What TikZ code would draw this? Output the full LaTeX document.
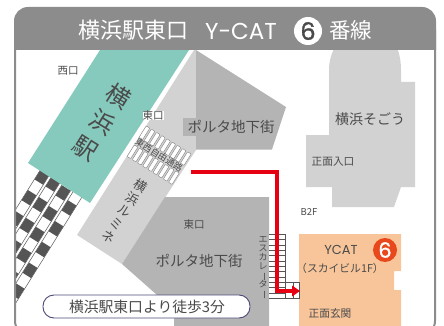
\documentclass[tikz,border=0pt]{standalone}
\usepackage{fontspec}
\setmainfont{Noto Sans CJK JP}
\newfontfamily\digitfont[FakeBold=1.2]{Poppins}
\newfontfamily\latinfont{Poppins}
\definecolor{hdr}{HTML}{8C8C8C}
\definecolor{lgray}{HTML}{D2D2D2}
\definecolor{dgray}{HTML}{B4B4B4}
\definecolor{teal1}{HTML}{85CABD}
\definecolor{orange1}{HTML}{F8C59A}
\definecolor{txt}{HTML}{4A4A4A}
\definecolor{red1}{HTML}{E60012}
\definecolor{track}{HTML}{555555}
\definecolor{navy}{HTML}{4A4A78}
\definecolor{ora}{HTML}{E8481C}
\newcommand{\fsz}[1]{\fontsize{#1}{#1}\selectfont}
\newcommand{\vbar}{\raisebox{0pt}[7pt][0pt]{\makebox[9pt]{\rotatebox[origin=c]{-90}{ー}}}}
\tikzset{
 lbl/.style={text=txt,inner sep=0pt,font=\fsz{#1}},
 lbl/.default=10.5,
 slot/.style={fill=white,draw=black!50,line width=0.4pt,rounded corners=0.6pt},
}
\begin{document}
\begin{tikzpicture}[x=1pt,y=-1pt]
\useasboundingbox (0,0) rectangle (444,326);
\begin{scope}
\clip (0,0) rectangle (444,326);
% tracks
\begin{scope}
\clip (16,50) rectangle (120,326);
\foreach \sx/\sy in {42/177,53/184,63/193,69/208}{
 \begin{scope}[shift={(\sx,\sy)},rotate=238,y=1pt]
  \fill[white] (-40,-5) rectangle (150,5);
  \draw[track,line width=0.5pt] (-40,-5.2) -- (150,-5.2) (-40,5.2) -- (150,5.2);
  \foreach \k in {-1,...,5}{
   \fill[track] ({\k*24.5-6},-5) rectangle ({\k*24.5+6},5);
  }
 \end{scope}
}
\end{scope}
% teal station
\fill[teal1] (100,50) -- (189,50) -- (90,203) -- (28,163) -- cycle;
% lumine and upper porta
\fill[lgray] (194,50) -- (196,50) -- (196,150) -- (122,264) -- (77,235) -- cycle;
\fill[dgray] (196,50) -- (286,107) -- (272,149.5) -- (196,149.5) -- cycle;
\fill[dgray] (183,118) rectangle (197,136);
% lower porta
\fill[dgray] (165,197) -- (269,197) -- (269,326) -- (174,326) -- (174,318) -- (157,295) -- (122,264) -- cycle;
% sogo
\fill[lgray] (329,135) -- (329,70) .. controls (329,60) and (332,52) .. (336,45) -- (396,45) .. controls (399,52) and (401,60) .. (401,70) -- (401,82) -- (415,82) -- (415,187) -- (401,187) -- (394,207) -- (332,207) -- (332,187) -- (306,187) -- (306,135) -- cycle;
% ycat
\fill[orange1] (299,234) -- (401,234) -- (401,271) -- (394,271) -- (394,290) -- (401,290) -- (401,326) -- (299,326) -- cycle;
% free passage slots
\begin{scope}[shift={(148,127)},rotate=238,y=1pt]
 \foreach \i in {0,...,8}{
  \draw[slot] (0,{\i*6.1-2.1}) rectangle (13.5,{\i*6.1+2.1});
  \draw[slot] (22.5,{\i*6.1-2.1}) rectangle (36,{\i*6.1+2.1});
 }
\end{scope}
% escalator
\fill[white] (269,234) rectangle (285,298);
\foreach \i in {0,...,12}{
 \draw[track,line width=0.5pt] (269,{234.3+\i*5.33}) -- (285,{234.3+\i*5.33});
}
\draw[track,line width=0.5pt] (285,234) -- (285,298);
\draw[track,fill=white,line width=0.5pt] (285,282) rectangle (299,298);
\draw[track,line width=0.5pt] (293,282) -- (293,298);
% route
\coordinate (routeStart) at (190.5,172);
\coordinate (routeTurnA) at (276.5,172);
\coordinate (routeTurnB) at (276.5,291);
\coordinate (routeEnd) at (293,291);
\coordinate (routeTip) at (300,291);
\draw[red1,line width=4pt,miter limit=5] (routeStart) -- (routeTurnA) -- (routeTurnB) -- (routeEnd);
\fill[red1] (routeTip) -- (292,285.5) -- (292,296.5) -- cycle;
% header and frame
\fill[hdr] (14,50) [rounded corners=14pt] -- (14,7) -- (436,7) [sharp corners] -- (436,50) -- cycle;
\draw[hdr,line width=2pt,rounded corners=14pt] (15,30) -- (15,335) -- (435,335) -- (435,30);
% pill
\node[draw=navy,fill=white,line width=0.9pt,rounded corners=11pt,minimum width=207pt,minimum height=23pt,inner sep=0pt] (pill) at (146.5,306.5) {};
\end{scope}
% labels
\node[text=white,inner sep=0pt,font=\fsz{22}] (t1) at (133.5,30.5) {横浜駅東口};
\node[text=white,inner sep=0pt,font=\latinfont\fsz{23}] (t2) at (241,31) {Y-CAT};
\node[fill=white,circle,minimum size=28pt,inner sep=0pt] (c6) at (308,31) {};
\node[text=txt,inner sep=0pt,font=\digitfont\fsz{24}] (c6t) at (308,31) {6};
\node[text=white,inner sep=0pt,font=\fsz{21.5}] (t3) at (350.5,30.5) {番線};
\node[lbl=10.5] (w) at (68,71) {西口};
\node[fill=white,inner sep=1pt,lbl=10.5] (e1) at (153,115.5) {東口};
\node[text=txt,inner sep=0pt,align=center,rotate=-32,font=\fontsize{24}{31}\selectfont] (yst) at (102,122) {横\\浜\\駅};
\node[text=txt,inner sep=0pt,align=center,rotate=-32,font=\fontsize{13}{15}\selectfont] (lum) at (125,211) {横\\浜\\ル\\ミ\\ネ};
\node[lbl=9,rotate=-32] (pass) at (159,155) {東西自由通路};
\node[lbl=14.5] (p1) at (231,126.5) {ポルタ地下街};
\node[lbl=10.5] (e2) at (194,224.5) {東口};
\node[lbl=14.5] (p2) at (199,261) {ポルタ地下街};
\node[lbl=14] (sg) at (370,119) {横浜そごう};
\node[lbl=10.7] (sg2) at (333,161.5) {正面入口};
\node[lbl=9.5] (b2) at (309,212) {B2F};
\node[text=txt,inner sep=0pt,font=\latinfont\fsz{13}] (yc) at (341,250) {YCAT};
\node[fill=ora,circle,minimum size=24pt,inner sep=0pt] (c6b) at (385,250) {};
\node[text=white,inner sep=0pt,font=\digitfont\fsz{21}] (c6bt) at (385,250) {6};
\node[lbl=10.8] (sky) at (340,268) {（スカイビル1F）};
\node[lbl=10.7] (gate) at (330,313) {正面玄関};
\node[text=txt,inner sep=0pt,align=center,font=\fontsize{9}{9}\selectfont] (esc) at (263,266.5) {エ\\ス\\カ\\レ\\\vbar\\タ\\\vbar};
\node[lbl=14.8] (ptxt) at (147,306.5) {横浜駅東口より徒歩3分};
\end{tikzpicture}
\end{document}
